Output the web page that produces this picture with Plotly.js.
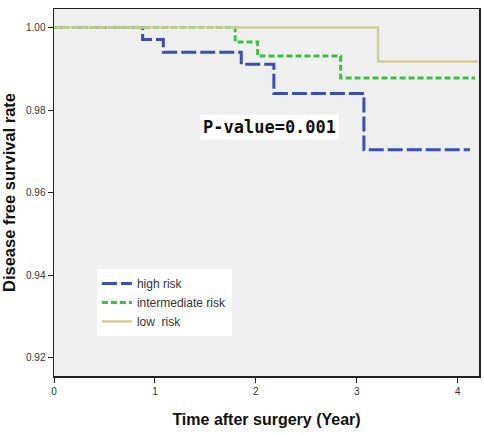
<!DOCTYPE html>
<html>
<head>
<meta charset="utf-8">
<script src="https://cdn.plot.ly/plotly-3.0.1.min.js"></script>
<style>
  html, body { margin: 0; padding: 0; background: #ffffff; }
  #chart { width: 484px; height: 434px; }
</style>
</head>
<body>
<div id="chart"></div>
<script>
// Kaplan-Meier disease free survival by risk group (step curves)
const highTime = [0, 0.878, 1.083, 1.855, 2.178, 3.07, 4.12];
const highSurv = [1.0, 0.9971, 0.9940, 0.9911, 0.9840, 0.9704, 0.9704];

const interTime = [0, 1.795, 2.017, 2.84, 4.17];
const interSurv = [1.0, 0.9965, 0.9931, 0.9878, 0.9878];

const lowTime = [0, 3.21, 4.20];
const lowSurv = [1.0, 0.9918, 0.9918];

const groupNames = ['high risk', 'intermediate risk', 'low  risk'];
const xTicks = [0, 1, 2, 3, 4];
const yTicks = [0.92, 0.94, 0.96, 0.98, 1.00];
const yTickText = ['0.92', '0.94', '0.96', '0.98', '1.00'];
const pValueText = 'P-value=0.001';

const traces = [
  {
    x: highTime, y: highSurv, name: groupNames[0], type: 'scatter', mode: 'lines',
    line: { shape: 'hv', color: '#3a4fb2', width: 3, dash: '15px,4px' }
  },
  {
    x: interTime, y: interSurv, name: groupNames[1], type: 'scatter', mode: 'lines',
    line: { shape: 'hv', color: '#3cbf45', width: 3, dash: '6px,3px' }
  },
  {
    x: lowTime, y: lowSurv, name: groupNames[2], type: 'scatter', mode: 'lines',
    line: { shape: 'hv', color: '#d3cb9c', width: 2.5 }
  }
];

const layout = {
  width: 484, height: 434,
  margin: { l: 54, r: 5, t: 9, b: 58 },
  paper_bgcolor: '#ffffff',
  plot_bgcolor: '#efefef',
  font: { family: 'Liberation Sans, Arial, sans-serif', color: '#222' },
  showlegend: true,
  legend: {
    x: 0.101, y: 0.2916, xanchor: 'left', yanchor: 'top',
    bgcolor: '#ffffff', borderwidth: 0,
    font: { size: 12, color: '#333' },
    itemwidth: 30, tracegroupgap: 0
  },
  xaxis: {
    range: [0, 4.21],
    tickvals: xTicks,
    ticks: 'outside', ticklen: 5, tickwidth: 1, tickcolor: '#222',
    showgrid: false, zeroline: false,
    showline: true, linecolor: '#222', linewidth: 1.5, mirror: true,
    tickfont: { size: 10, color: '#333' },
    title: { text: '<b>Time after surgery (Year)</b>', font: { size: 16, color: '#111' }, standoff: 18 }
  },
  yaxis: {
    range: [0.91564, 1.00448],
    tickvals: yTicks, ticktext: yTickText,
    ticks: 'outside', ticklen: 5, tickwidth: 1, tickcolor: '#222',
    showgrid: false, zeroline: false,
    showline: true, linecolor: '#222', linewidth: 1.5, mirror: true,
    tickfont: { size: 10, color: '#333' },
    title: { text: '<b>Disease free survival rate</b>', font: { size: 16.5, color: '#111' }, standoff: 8 }
  },
  annotations: [
    {
      x: 0.508, y: 0.678, xref: 'paper', yref: 'paper',
      xanchor: 'center', yanchor: 'middle',
      text: '<b>' + pValueText + '</b>', showarrow: false,
      font: { family: 'DejaVu Sans Mono, monospace', size: 17, color: '#111' },
      bgcolor: '#ffffff', borderpad: 2
    }
  ]
};

Plotly.newPlot('chart', traces, layout, { displayModeBar: false, staticPlot: true });
</script>
</body>
</html>
